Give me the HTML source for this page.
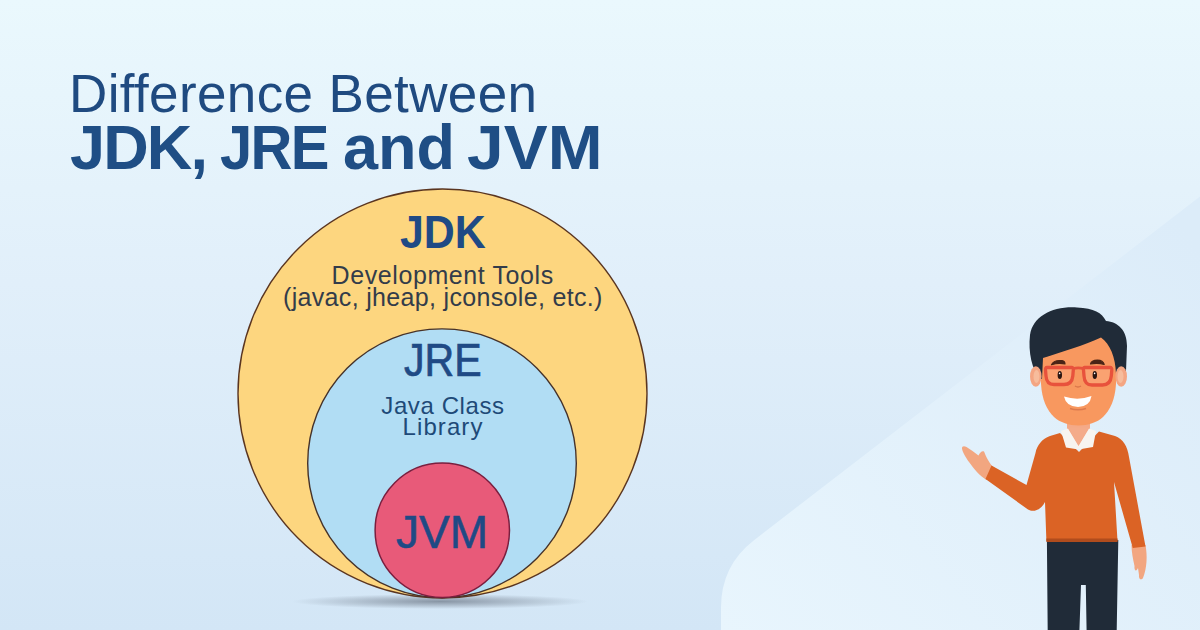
<!DOCTYPE html>
<html><head><meta charset="utf-8">
<style>
html,body{margin:0;padding:0;width:1200px;height:630px;overflow:hidden;}
body{position:relative;font-family:"Liberation Sans",sans-serif;background:linear-gradient(180deg,#eaf8fd 0%,#e1effa 45%,#d3e6f6 100%);}
.t{position:absolute;white-space:nowrap;line-height:1;}
#t1{left:69px;top:67px;font-size:53px;letter-spacing:0.38px;color:#1f4a80;}
.t2{top:116px;font-size:63px;font-weight:bold;color:#1f4e85;letter-spacing:-1.85px;}
#w1{left:70px;}
#w2{left:219.5px;transform:scaleX(0.92);transform-origin:0 0;}
#w3{left:343px;letter-spacing:-0.05px;}
#w4{left:467.3px;letter-spacing:0.1px;transform:scaleX(1.045);transform-origin:0 0;}
#c1{left:400px;top:209px;font-size:46px;font-weight:bold;color:#1f4a85;transform:scaleX(0.933);transform-origin:0 0;}
#c2{left:331.5px;top:263px;font-size:25px;color:#333c4a;letter-spacing:0.6px;}
#c3{left:283px;top:285px;font-size:25px;color:#333c4a;letter-spacing:0.33px;}
#c4{left:404px;top:337px;font-size:46px;color:#1f4a85;-webkit-text-stroke:0.7px #1f4a85;transform:scaleX(0.895);transform-origin:0 0;}
#c5{left:381.3px;top:393.5px;font-size:24px;color:#1e4a78;letter-spacing:0.6px;}
#c6{left:402.5px;top:415px;font-size:24px;color:#1e4a78;letter-spacing:1.1px;}
#c7{left:396px;top:509px;font-size:46px;color:#1f4a85;-webkit-text-stroke:0.6px #1f4a85;}
svg{position:absolute;left:0;top:0;}
</style></head><body>
<svg width="1200" height="630" viewBox="0 0 1200 630">
  <defs>
    <linearGradient id="lg" gradientUnits="userSpaceOnUse" x1="721" y1="630" x2="1200" y2="250">
      <stop offset="0" stop-color="#e8f5fd"/>
      <stop offset="1" stop-color="#dcecf9"/>
    </linearGradient>
    <radialGradient id="sh" cx="0.5" cy="0.5" r="0.5">
      <stop offset="0" stop-color="#7b8796" stop-opacity="0.85"/>
      <stop offset="1" stop-color="#7b8796" stop-opacity="0"/>
    </radialGradient>
  </defs>
  <!-- light bg shape -->
  <path d="M721 631 L721 607.5 Q721 565.5 754.3 539.9 L1200 196.5 L1200 631 Z" fill="url(#lg)"/>
  <!-- shadow -->
  <ellipse cx="440" cy="601.5" rx="148" ry="7.5" fill="url(#sh)"/>
  <!-- circles -->
  <circle cx="442.5" cy="393.5" r="204.5" fill="#fdd67f" stroke="#5a3520" stroke-width="1.4"/>
  <circle cx="442" cy="463.2" r="134.3" fill="#b1ddf4" stroke="#45322a" stroke-width="1.4"/>
  <circle cx="442.3" cy="530.3" r="67.2" fill="#e85a79" stroke="#7a1e3e" stroke-width="1.5"/>
  <!-- man -->
  <g id="man">
    <!-- pants -->
    <path d="M1046.9 540 L1118.3 540 L1116.7 631 L1086.6 631 L1085.8 585 L1081 585 L1079.4 631 L1047.7 631 Z" fill="#202b38"/>
    <!-- right hand -->
    <path d="M1131.5 545 L1145.5 545 C1147.5 556 1147 568 1143 578 C1141 581 1138.5 579 1139 575 L1138 568 C1136.5 572 1134 571 1134.5 566 C1133 559 1131.5 552 1131.5 545 Z" fill="#f2a680"/>
    <!-- left hand -->
    <path d="M993 467 L986.5 480 C980 476 974 469 969 462 C965.5 457 962.5 452 962 448.5 C961.8 446 964 445.5 966.5 447 C970.5 449.5 974.5 452.5 978.5 455.5 C980 452.5 982 450.5 984 451.5 C985.5 454.5 987 460 993 467 Z" fill="#f2a680"/>
    <!-- neck -->
    <path d="M1067 418 L1090 418 L1090 446 L1067 446 Z" fill="#f4a987"/>
    <!-- sweater -->
    <path d="M1060 433 L1050 436 C1042 439 1037 445 1035.5 453 L1026.5 485 L991.5 465.5 L985.5 479 L1028 509.5 C1033 512.5 1041 510.5 1045 502 L1046.4 541 L1117.5 541 L1114 482 L1132.8 548 L1145.5 546.5 L1129 457 C1127.5 446 1123 439 1115 436 L1099 431.5 L1079 452 Z" fill="#db6325"/>
    <path d="M1046.4 538.5 L1117.5 538.5 L1117.5 542 L1046.4 542 Z" fill="#b04c1d"/>
    <!-- collar -->
    <path d="M1061 431 L1068 428.5 L1078.5 446 L1089 428.5 L1096 431 L1093 447 L1078.5 449.5 L1066 447.5 Z" fill="#f7f4f0"/>
    <path d="M1068 427.5 L1078.5 445 L1089 427.5 Z" fill="#f4ab8a"/>
    <!-- face -->
    <path d="M1041 332 L1116 332 L1116 384 C1115 400 1110 410 1103 417 C1097 422.5 1088 425.5 1078.5 425.5 C1069 425.5 1060 422.5 1054 417 C1047 410 1042 400 1041 384 Z" fill="#f8985f"/>
    <!-- hair -->
    <path d="M1040 379 C1032 370 1028 352 1030 335 C1033 316 1053 306 1077 307.5 C1094 308 1102 313 1106 321 C1118 322 1127 330 1127 346 L1126 371 L1116 374 C1115.5 357 1110 344 1101 337.5 C1085 345 1062 352 1043 358 L1042 379 Z" fill="#202b38"/>
    <!-- ears -->
    <ellipse cx="1035.8" cy="376.5" rx="5.8" ry="10.3" fill="#f4a582"/>
    <ellipse cx="1036.5" cy="376.5" rx="3" ry="6.5" fill="#f7bc9c"/>
    <ellipse cx="1121.2" cy="376.5" rx="5.8" ry="10.3" fill="#f4a582"/>
    <ellipse cx="1120.5" cy="376.5" rx="3" ry="6.5" fill="#f7bc9c"/>
    <!-- eyebrows -->
    <path d="M1051.5 364.8 C1053 361 1058 360.2 1062 360.6 C1064 361 1065 362.5 1065 364 C1061 363 1056 363.2 1051.5 364.8 Z" fill="#4a2416" stroke="#4a2416" stroke-width="1.2" stroke-linejoin="round"/>
    <path d="M1090.5 364 C1091 361.5 1094 360.3 1097.5 360.2 C1101 360.2 1103.5 362 1104.2 364.5 C1100 363.2 1095 363 1090.5 364 Z" fill="#4a2416" stroke="#4a2416" stroke-width="1.2" stroke-linejoin="round"/>
    <!-- glasses -->
    <path d="M1047 367.5 L1071.5 367.5 Q1073.5 367.5 1073.3 370 L1072.8 376 Q1072 384.5 1064 384.5 L1054 384.5 Q1046.5 384.5 1046 376 L1045.5 370 Q1045.3 367.5 1047 367.5 Z" fill="#fbab84" fill-opacity="0.5" stroke="#e8523c" stroke-width="3.3" stroke-linejoin="round"/>
    <path d="M1084.5 367.5 L1110 367.5 Q1112 367.5 1111.8 370 L1111.3 376 Q1110.5 385 1102.5 385 L1092 385 Q1084.5 385 1084 376 L1083.5 370 Q1083.2 367.5 1084.5 367.5 Z" fill="#fbab84" fill-opacity="0.5" stroke="#e8523c" stroke-width="3.3" stroke-linejoin="round"/>
    <path d="M1073 368.6 Q1078.3 367 1083.5 368.6" stroke="#e8523c" stroke-width="2.8" fill="none"/>
    <!-- eyes -->
    <ellipse cx="1059.8" cy="375" rx="2.2" ry="4.1" fill="#2a1612"/>
    <ellipse cx="1094.8" cy="375" rx="2.2" ry="4.1" fill="#2a1612"/>
    <circle cx="1059.6" cy="373.4" r="0.8" fill="#fff"/>
    <circle cx="1094.6" cy="373.4" r="0.8" fill="#fff"/>
    <!-- nose -->
    <path d="M1075 386 Q1078 388 1081 386" stroke="#d9764a" stroke-width="1.5" fill="none"/>
    <!-- smile -->
    <path d="M1064 396.5 Q1078 401 1091.5 396 Q1090 406.5 1078 407 Q1066 406.5 1064 396.5 Z" fill="#ffffff"/>
    <path d="M1070 408.5 Q1078 411 1086 408.5" stroke="#dc7a4e" stroke-width="1.5" fill="none"/>
  </g>
</svg>
<div class="t" id="t1">Difference Between</div>
<div class="t t2" id="w1">JDK,</div><div class="t t2" id="w2">JRE</div><div class="t t2" id="w3">and</div><div class="t t2" id="w4">JVM</div>
<div class="t" id="c1">JDK</div>
<div class="t" id="c2">Development Tools</div>
<div class="t" id="c3">(javac, jheap, jconsole, etc.)</div>
<div class="t" id="c4">JRE</div>
<div class="t" id="c5">Java Class</div>
<div class="t" id="c6">Library</div>
<div class="t" id="c7">JVM</div>
</body></html>
